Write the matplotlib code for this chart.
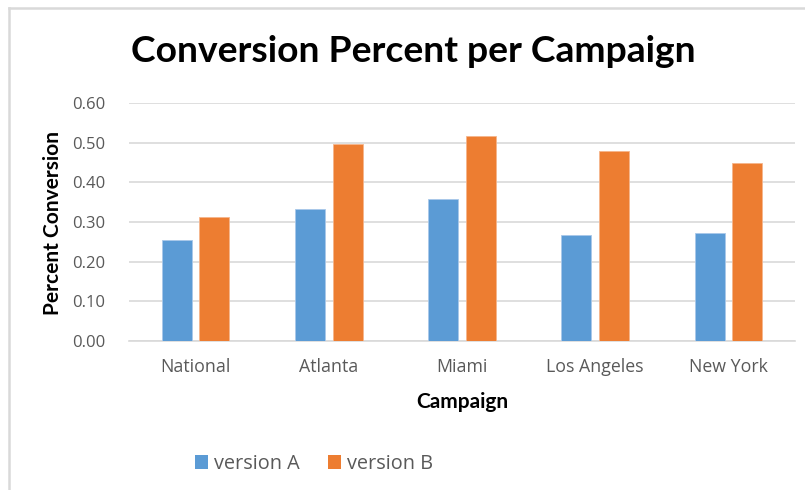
import matplotlib
matplotlib.use("Agg")
import matplotlib.pyplot as plt
import numpy as np
from matplotlib.lines import Line2D
from matplotlib.patches import Patch

categories = ["National", "Atlanta", "Miami", "Los Angeles", "New York"]
version_a = [0.255, 0.333, 0.358, 0.268, 0.273]
version_b = [0.312, 0.497, 0.517, 0.478, 0.448]
series_names = ["version A", "version B"]
yticks = [0.0, 0.1, 0.2, 0.3, 0.4, 0.5, 0.6]

blue = "#5B9BD5"
orange = "#ED7D31"
grid_c = "#D9D9D9"
tick_c = "#595959"

plt.rcParams["font.family"] = ["Open Sans", "DejaVu Sans"]

fig = plt.figure(figsize=(8.05, 4.9), dpi=100)
W, H = 805, 490
ax = fig.add_axes([129 / W, 1 - 341 / H, (795 - 129) / W, (341 - 103) / H])

x = np.arange(len(categories))
bw = 0.225
ax.bar(x - 0.141, version_a, width=bw, color=blue, edgecolor="#A9C8EA", linewidth=0.6, zorder=3)
ax.bar(x + 0.141, version_b, width=bw, color=orange, edgecolor="#F5B58C", linewidth=0.6, zorder=3)

ax.set_xlim(-0.5, len(categories) - 0.5)
ax.set_ylim(0, 0.6)
ax.set_yticks(yticks)
ax.set_yticklabels([f"{v:.2f}" for v in yticks])
ax.set_xticks(x)
ax.set_xticklabels(categories)
ax.grid(axis="y", color=grid_c, linewidth=1.2, zorder=0)
for s in ["top", "right", "left"]:
    ax.spines[s].set_visible(False)
ax.spines["bottom"].set_color(grid_c)
ax.spines["bottom"].set_linewidth(1.2)
ax.tick_params(axis="both", length=0, colors=tick_c)
ax.tick_params(axis="y", pad=17, labelsize=12)
ax.tick_params(axis="x", pad=12, labelsize=12.8)

# Title
fig.text(413 / W, 1 - 52 / H, "Conversion Percent per Campaign", ha="center", va="center",
         fontsize=26.8, fontweight="bold", family="Lato", color="black")
# Axis labels
fig.text(53 / W, 1 - 223 / H, "Percent Conversion", rotation=90, ha="center", va="center",
         fontsize=15, fontweight="bold", family="Lato", color="black")
fig.text(462 / W, 1 - 402 / H, "Campaign", ha="center", va="center",
         fontsize=15, fontweight="bold", family="Lato", color="black")

# Legend
handles = [Patch(facecolor=blue, edgecolor="none"), Patch(facecolor=orange, edgecolor="none")]
leg = fig.legend(handles, series_names, loc="center", bbox_to_anchor=(314 / W, 1 - 464 / H),
                 ncol=2, frameon=False, prop={"size": 14.3},
                 handlelength=0.65, handleheight=0.65, handletextpad=0.3, columnspacing=1.4)
for t in leg.get_texts():
    t.set_color(tick_c)

# Chart frame (top and left borders)
fig.add_artist(Line2D([9 / W, 1], [1 - 8.5 / H, 1 - 8.5 / H], color=grid_c, linewidth=1.8, transform=fig.transFigure))
fig.add_artist(Line2D([9 / W, 9 / W], [0, 1 - 8.5 / H], color=grid_c, linewidth=1.8, transform=fig.transFigure))

fig.savefig("out.png", dpi=100)
